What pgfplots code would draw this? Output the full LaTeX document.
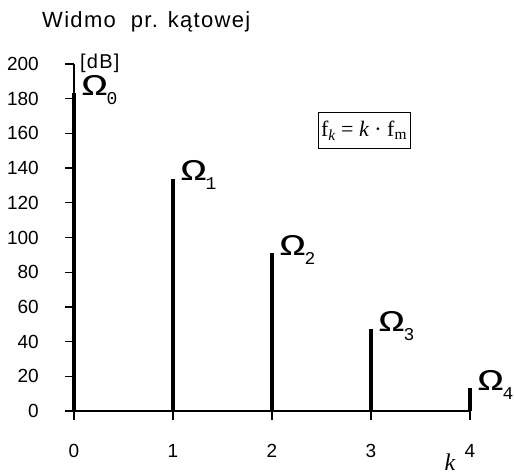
\documentclass[border=0pt]{standalone}
\usepackage{pgfplots}
\pgfplotsset{compat=1.18}
\usepackage{fontspec}
\setmainfont{Liberation Sans}
\newfontfamily\widefont[LetterSpace=6]{Liberation Sans}
\newfontfamily\monof{Liberation Mono}
\newfontfamily\seriff{Liberation Serif}
\newcommand{\Om}[1]{{\monof\fontsize{30}{30}\selectfont\scalebox{1.45}[1]{Ω}}\hspace{-1pt}\raisebox{-9pt}{\monof\fontsize{18}{18}\selectfont #1}}
\begin{document}
\begin{tikzpicture}
\useasboundingbox (0,0) rectangle (514pt,475pt);
\begin{axis}[
  at={(74pt,64pt)}, anchor=south west,
  scale only axis, width=396pt, height=347pt,
  xmin=0, xmax=4, ymin=0, ymax=200,
  axis x line*=bottom, axis y line*=left,
  axis line style={line width=1.3pt, -},
  xtick={0,1,2,3,4}, ytick={0,20,...,200},
  tick align=outside, major tick length=9pt,
  every tick/.style={black, line width=1.3pt},
  tick label style={font=\fontsize{19}{19}\selectfont},
  /pgf/number format/assume math mode=true,
  yticklabel style={anchor=east, inner sep=0pt, xshift=-26pt},
  xticklabel style={anchor=north, inner sep=0pt, yshift=-24pt},
  clip=false,
  point meta=explicit symbolic,
  nodes near coords={\Om{\pgfplotspointmeta}},
  every node near coord/.style={anchor=base west, inner sep=0pt, xshift=6pt, yshift=-2pt},
]
\addplot[ycomb, line width=3.2pt, black, mark=none] coordinates {
  (0,183) [0]
  (1,134) [1]
  (2,91) [2]
  (3,47) [3]
  (4,13) [4]
};
\end{axis}
\node[anchor=base west, inner sep=0pt] at (42pt,447pt) {\widefont\fontsize{22}{22}\selectfont Widmo\ \ pr. kątowej};
\node[anchor=base west, inner sep=0pt] at (80pt,406pt) {\widefont\fontsize{20}{20}\selectfont [dB]};
\node[draw, line width=1pt, minimum width=92pt, minimum height=35pt, inner sep=0pt] at (364pt,344.5pt)
  {\seriff\fontsize{22}{22}\selectfont f\textsubscript{\itshape k} = {\itshape k} · f\textsubscript{m}};
\node[anchor=base, inner sep=0pt] at (450pt,5pt) {\seriff\itshape\fontsize{24}{24}\selectfont k};
\end{tikzpicture}
\end{document}
